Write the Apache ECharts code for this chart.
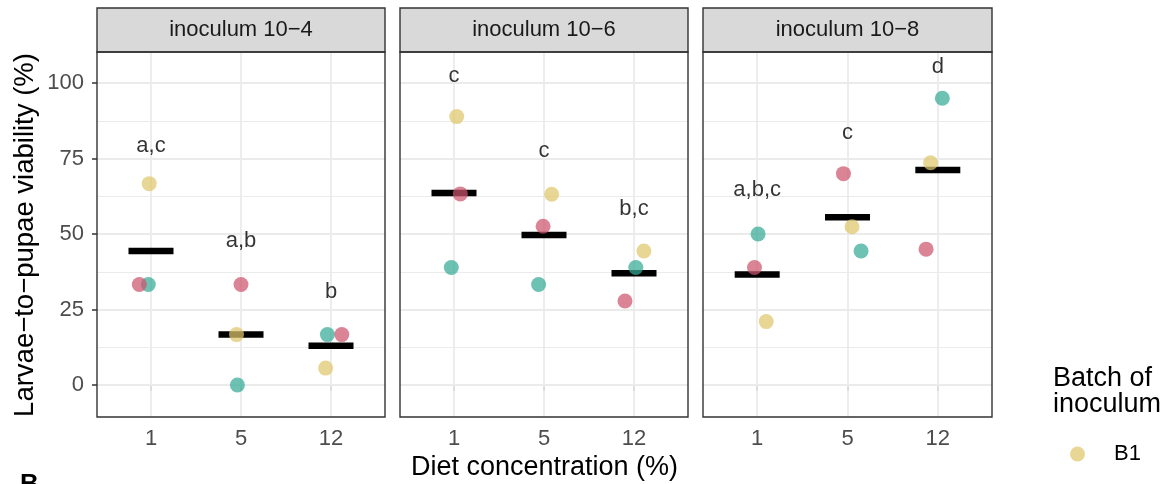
<!DOCTYPE html>
<html><head><meta charset="utf-8">
<script src="https://cdn.jsdelivr.net/npm/echarts@6/dist/echarts.min.js"></script>
<style>html,body{margin:0;padding:0;background:#fff}#c{width:1168px;height:484px}</style>
</head><body><div id="c"></div>
<script>
// ---- data ----
const categories = ['1', '5', '12'];
const panels = ['inoculum 10\u22124', 'inoculum 10\u22126', 'inoculum 10\u22128'];
const batches = ['B1', 'B2', 'B3'];
const yTicks = [0, 25, 50, 75, 100];
const yMinor = [12.5, 37.5, 62.5, 87.5];
// values per panel, per diet concentration [1, 5, 12]
const b1Values = [[66.7, 16.7, 5.6], [88.9, 63.2, 44.4], [21.0, 52.4, 73.6]];
const b2Values = [[33.3, 0.0, 16.7], [38.9, 33.3, 38.9], [50.0, 44.4, 95.0]];
const b3Values = [[33.3, 33.3, 16.7], [63.3, 52.6, 27.8], [38.9, 70.0, 45.0]];
// horizontal jitter (category units)
const b1Jitter = [[-0.02, -0.05, -0.06], [0.03, 0.085, 0.11], [0.10, 0.05, -0.08]];
const b2Jitter = [[-0.03, -0.04, -0.04], [-0.03, -0.06, 0.02], [0.01, 0.15, 0.05]];
const b3Jitter = [[-0.13, 0.0, 0.12], [0.07, -0.01, -0.10], [-0.03, -0.045, -0.13]];
const meanValues = [[44.4, 16.7, 13.0], [63.6, 49.7, 37.0], [36.6, 55.6, 71.2]];
const groupLetters = [['a,c', 'a,b', 'b'], ['c', 'c', 'b,c'], ['a,b,c', 'c', 'd']];
const letterY = [[79.3, 47.8, 30.7], [102.4, 77.5, 58.3], [64.6, 83.4, 105.2]];

// ---- layout / style ----
const FONT = 'Liberation Sans, Arial, Helvetica, sans-serif';
const panelLeft = [97, 400, 703];
const panelWidth = [288, 288, 289];
const panelTop = 52, panelHeight = 365;
const batchColors = ['#DFC76B', '#35AA95', '#CD546D'];
const allValues = [b1Values, b2Values, b3Values];
const allJitter = [b1Jitter, b2Jitter, b3Jitter];

const grids = [], xAxes = [], yAxes = [], series = [], graphics = [];
const catPos = categories.map((c, k) => k + 1);

for (let i = 0; i < 3; i++) {
  grids.push({left: panelLeft[i], top: panelTop, width: panelWidth[i], height: panelHeight, show: false});
  xAxes.push({
    type: 'value', gridIndex: i, min: 0.4, max: 3.6,
    axisLine: {show: false},
    axisTick: {show: true, customValues: catPos, length: 6, lineStyle: {color: '#333333', width: 1.5}},
    axisLabel: {customValues: catPos, formatter: v => categories[Math.round(v) - 1], color: '#4D4D4D',
      fontSize: 22, fontFamily: FONT, margin: 11},
    splitLine: {show: false}
  });
  yAxes.push({
    type: 'value', gridIndex: i, min: -10.6, max: 110.3,
    axisLine: {show: false},
    axisTick: {show: i === 0, customValues: yTicks, length: 5, lineStyle: {color: '#333333', width: 1.5}},
    axisLabel: {show: i === 0, customValues: yTicks, color: '#4D4D4D', fontSize: 22, fontFamily: FONT, margin: 13},
    splitLine: {show: false}
  });
  // background grid lines
  series.push({
    type: 'scatter', xAxisIndex: i, yAxisIndex: i, data: [], z: 1, silent: true,
    markLine: {
      z: 1, silent: true, symbol: ['none', 'none'], label: {show: false}, animation: false,
      lineStyle: {color: '#EBEBEB', type: 'solid', width: 1.8},
      data: [].concat(
        yTicks.map(v => ({yAxis: v, lineStyle: {width: 1.8, color: '#EBEBEB', type: 'solid'}})),
        yMinor.map(v => ({yAxis: v, lineStyle: {width: 1.0, color: '#EBEBEB', type: 'solid'}})),
        catPos.map(v => ({xAxis: v, lineStyle: {width: 1.8, color: '#EBEBEB', type: 'solid'}}))
      )
    }
  });
  // mean bars
  series.push({
    type: 'scatter', xAxisIndex: i, yAxisIndex: i, z: 2, silent: true,
    symbol: 'rect', symbolSize: [45, 6.5], itemStyle: {color: '#000000', opacity: 1},
    data: meanValues[i].map((m, k) => [catPos[k], m])
  });
  // points per batch
  for (let b = 0; b < 3; b++) {
    series.push({
      type: 'scatter', name: batches[b], xAxisIndex: i, yAxisIndex: i, z: 3,
      symbol: 'circle', symbolSize: 15,
      itemStyle: {color: batchColors[b], opacity: 0.72},
      data: allValues[b][i].map((v, k) => [catPos[k] + allJitter[b][i][k], v])
    });
  }
  // group letters
  series.push({
    type: 'scatter', xAxisIndex: i, yAxisIndex: i, z: 4, silent: true,
    symbolSize: 0, itemStyle: {color: 'rgba(0,0,0,0)'},
    label: {show: true, position: 'inside', color: '#000000', fontSize: 22, fontFamily: FONT,
      formatter: p => groupLetters[i][p.dataIndex]},
    data: letterY[i].map((y, k) => [catPos[k], y])
  });
  // strip + border
  graphics.push({type: 'rect', shape: {x: panelLeft[i], y: 8, width: panelWidth[i], height: 44},
    style: {fill: '#D9D9D9', stroke: '#333333', lineWidth: 1.4}, z: 50});
  graphics.push({type: 'text', x: panelLeft[i] + panelWidth[i] / 2, y: 30, z: 51,
    style: {text: panels[i], fontSize: 22, fontFamily: FONT, fill: '#1A1A1A', align: 'center', verticalAlign: 'middle'}});
  graphics.push({type: 'rect', shape: {x: panelLeft[i], y: panelTop, width: panelWidth[i], height: panelHeight},
    style: {fill: 'none', stroke: '#333333', lineWidth: 1.4}, z: 60});
}

graphics.push({type: 'text', x: 25, y: 235, rotation: Math.PI / 2, z: 50,
  style: {text: 'Larvae\u2212to\u2212pupae viability (%)', fontSize: 27.5, fontFamily: FONT, fill: '#000',
    align: 'center', verticalAlign: 'middle'}});
graphics.push({type: 'text', x: 544.5, y: 467.6, z: 50,
  style: {text: 'Diet concentration (%)', fontSize: 27, fontFamily: FONT, fill: '#000',
    align: 'center', verticalAlign: 'middle'}});
graphics.push({type: 'text', x: 1053, y: 378.5, z: 50,
  style: {text: 'Batch of', fontSize: 27, fontFamily: FONT, fill: '#000', align: 'left', verticalAlign: 'middle'}});
graphics.push({type: 'text', x: 1053, y: 404.5, z: 50,
  style: {text: 'inoculum', fontSize: 27, fontFamily: FONT, fill: '#000', align: 'left', verticalAlign: 'middle'}});
graphics.push({type: 'text', x: 20, y: 485, z: 50,
  style: {text: 'B', fontSize: 26, fontWeight: 'bold', fontFamily: FONT, fill: '#000', align: 'left', verticalAlign: 'middle'}});

const chart = echarts.init(document.getElementById('c'), null, {renderer: 'canvas'});
chart.setOption({
  animation: false,
  backgroundColor: '#ffffff',
  grid: grids, xAxis: xAxes, yAxis: yAxes, series: series,
  legend: {data: batches, orient: 'vertical', left: 1070, top: 443, height: 200, padding: 0, itemGap: 34,
    itemWidth: 15, itemHeight: 15, icon: 'circle',
    textStyle: {fontSize: 22, fontFamily: FONT, color: '#000', padding: [0, 0, 0, 24]}},
  graphic: graphics
});
</script></body></html>
